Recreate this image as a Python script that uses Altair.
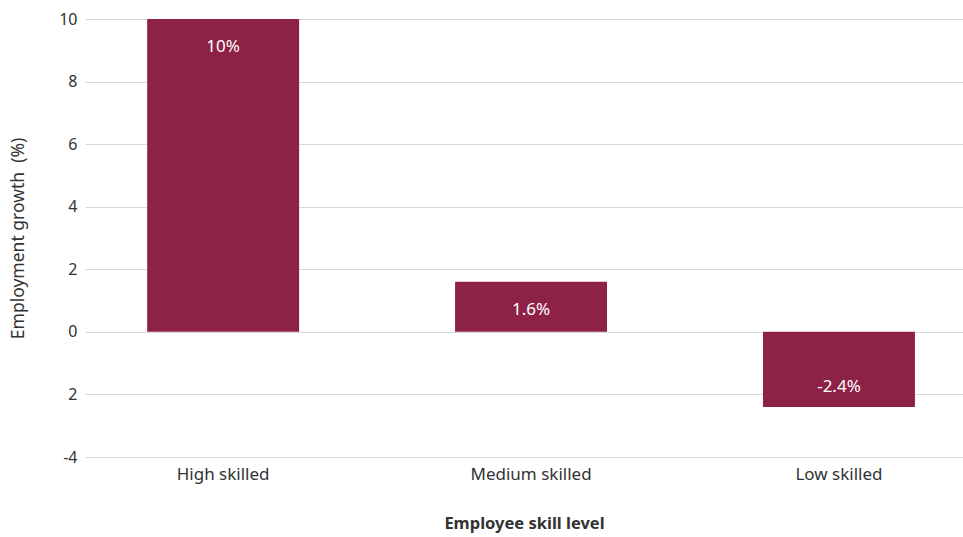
import altair as alt
import pandas as pd

categories = ["High skilled", "Medium skilled", "Low skilled"]
values = [10.0, 1.6, -2.4]
labels = ["10%", "1.6%", "-2.4%"]

df = pd.DataFrame({"cat": categories, "val": values, "lab": labels})

FONT = "Noto Sans"
BAR = "#8E2146"
TXT = "#333333"

x = alt.X("cat:N", sort=categories,
          scale=alt.Scale(paddingInner=0.5065, paddingOuter=0.179, align=0.564),
          axis=alt.Axis(title="Employee skill level", labelAngle=0, labelFontSize=17,
                        labelColor=TXT, labelFont=FONT, labelPadding=9, grid=False,
                        titleFont=FONT, titleFontSize=16.5, titleFontWeight="bold",
                        titleColor=TXT, titlePadding=33, ticks=False, domain=False))
y = alt.Y("val:Q", scale=alt.Scale(domain=[-4, 10], nice=False),
          axis=alt.Axis(title="Employment growth\u00a0\u00a0(%)", values=[-4, -2, 0, 2, 4, 6, 8, 10],
                        labelExpr="datum.value == -2 ? '2' : (datum.value < 0 ? '-' + abs(datum.value) : datum.label)",
                        labelFontSize=16, labelColor=TXT, labelFont=FONT,
                        labelPadding=8, ticks=False, domain=False,
                        gridColor="#d9d9d9", gridWidth=1,
                        titleFont=FONT, titleFontSize=17.5, titleFontWeight="normal",
                        titleColor=TXT, titlePadding=31))

base = alt.Chart(df).encode(x=x, y=y)

bars = base.mark_bar(color=BAR)

pos = base.transform_filter("datum.val >= 0").mark_text(
    color="white", font=FONT, fontSize=17, baseline="middle", dy=28
).encode(text="lab:N")

neg = base.transform_filter("datum.val < 0").mark_text(
    color="white", font=FONT, fontSize=17, baseline="middle", dy=-20
).encode(text="lab:N")

chart = alt.layer(bars, pos, neg).properties(
    width=878, height=438,
    background="white",
    autosize=alt.AutoSizeParams(type="none"),
    padding={"left": 85, "top": 19, "right": 0, "bottom": 80},
).configure_view(stroke=None, strokeWidth=0)

chart.save("out.html", embed_options={"renderer": "svg", "actions": False})
